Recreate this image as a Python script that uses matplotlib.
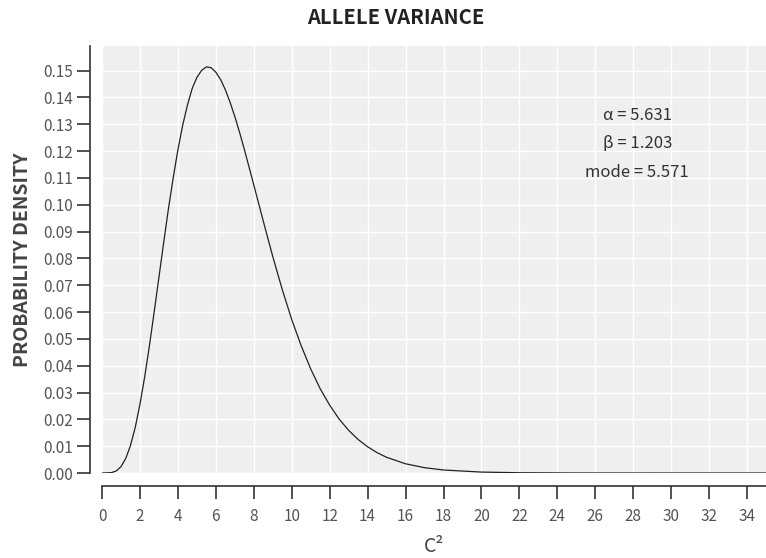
import matplotlib
matplotlib.use("Agg")
import matplotlib.pyplot as plt

plt.rcParams['font.family'] = ['Noto Sans CJK JP', 'DejaVu Sans']

# density curve
x_vals = [0, 0.5, 0.75, 1, 1.25, 1.5, 1.75, 2, 2.25, 2.5, 2.75, 3, 3.25, 3.5, 3.75, 4,
          4.25, 4.5, 4.75, 5, 5.25, 5.5, 5.75, 6, 6.25, 6.5, 6.75, 7, 7.25, 7.5, 8, 8.5,
          9, 9.5, 10, 10.5, 11, 11.5, 12, 12.5, 13, 13.5, 14, 14.5, 15, 16, 17, 18, 20,
          22, 25, 30, 35]
density = [0.0, 0.00015, 0.00077, 0.00238, 0.00542, 0.01026, 0.0170, 0.02564, 0.0359,
           0.04755, 0.0601, 0.0730, 0.0859, 0.0985, 0.1100, 0.1205, 0.1296, 0.1371,
           0.1433, 0.1475, 0.1501, 0.1514, 0.1511, 0.1494, 0.1467, 0.1429, 0.1382,
           0.1329, 0.1270, 0.1207, 0.1074, 0.0939, 0.0807, 0.0684, 0.0572, 0.0474,
           0.0388, 0.0314, 0.0253, 0.0201, 0.0159, 0.0125, 0.00978, 0.00759, 0.00586,
           0.00344, 0.00199, 0.00113, 0.00035, 0.0001, 0.00001, 0.0, 0.0]

x_ticks = list(range(0, 35, 2))
y_ticks = [i / 100 for i in range(16)]
notes = ["\u03b1 = 5.631", "\u03b2 = 1.203", "mode = 5.571"]

fig = plt.figure(figsize=(7.66, 5.58), dpi=100)
ax = fig.add_axes([0.1332, 0.1523, 0.8668, 0.7653])
ax.set_facecolor('#efefef')

ax.plot(x_vals, density, color='#222222', linewidth=0.9)

ax.set_xlim(0, 35)
ax.set_ylim(0, 0.1592)
ax.set_xticks(x_ticks)
ax.set_yticks(y_ticks)
ax.set_yticklabels([f"{v:.2f}" for v in y_ticks])

ax.grid(True, color='white', linewidth=1.0)
ax.set_axisbelow(True)

for side in ['top', 'right']:
    ax.spines[side].set_visible(False)
ax.spines['left'].set_position(('outward', 8.6))
ax.spines['bottom'].set_position(('outward', 9.4))
for side in ['left', 'bottom']:
    ax.spines[side].set_color('#333333')
    ax.spines[side].set_linewidth(1.2)

ax.tick_params(axis='y', length=9.4, width=1.2, color='#333333', labelcolor='#555555',
               labelsize=11, pad=3)
ax.tick_params(axis='x', length=9, width=1.2, color='#333333', labelcolor='#555555',
               labelsize=11, pad=7)

ax.set_ylabel('PROBABILITY DENSITY', fontsize=14, fontweight='bold', color='#444444',
              labelpad=8)
ax.set_xlabel('C\u00b2', fontsize=14, color='#444444', labelpad=8)
fig.text(0.517, 0.968, 'ALLELE VARIANCE', fontsize=14.5, fontweight='bold',
         color='#222222', ha='center', va='center')

for i, line in enumerate(notes):
    ax.text(0.806, 0.838 - i * 0.067, line, transform=ax.transAxes, ha='center',
            va='center', fontsize=12, color='#333333')

fig.savefig('out.png', dpi=100)
